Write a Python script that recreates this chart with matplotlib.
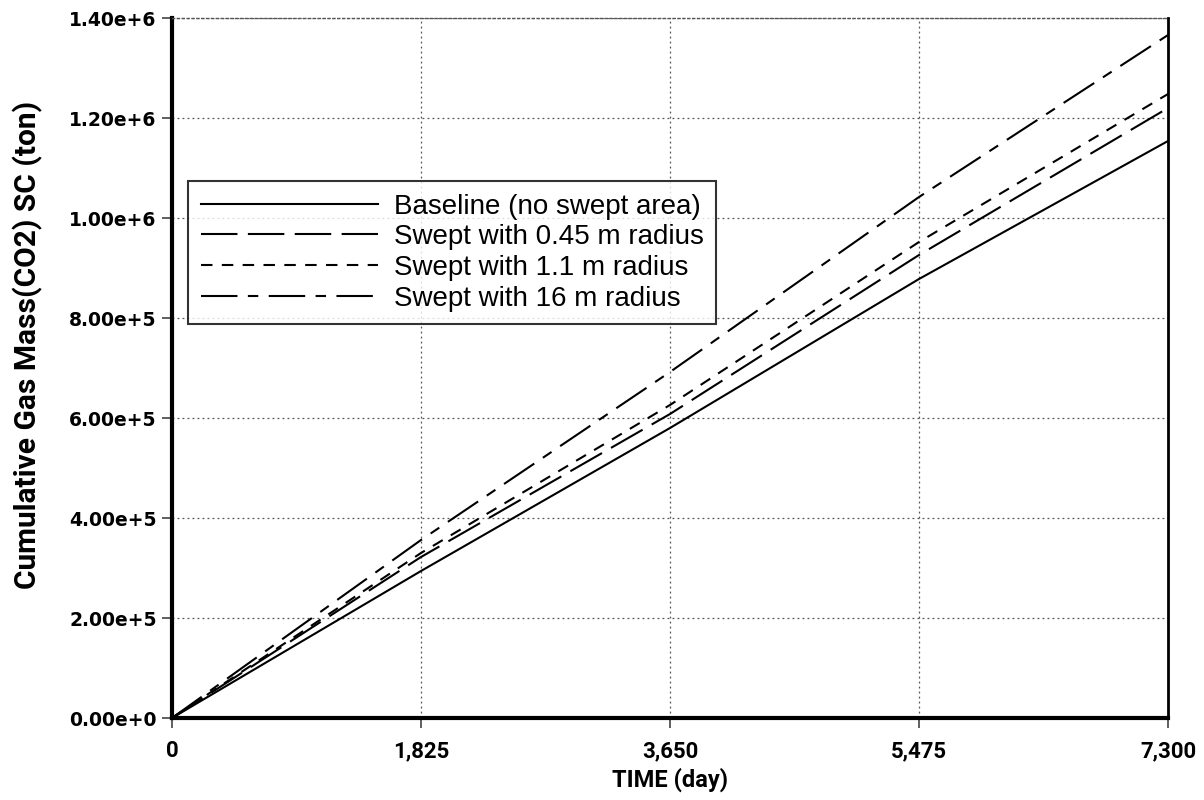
import matplotlib
matplotlib.use("Agg")
import matplotlib.pyplot as plt
from matplotlib.ticker import FixedLocator

time_days = [0, 1825, 3650, 5475, 7300]
baseline = [0, 2.94e5, 5.80e5, 8.78e5, 1.154e6]
swept_045 = [0, 3.22e5, 6.08e5, 9.26e5, 1.220e6]
swept_11 = [0, 3.30e5, 6.26e5, 9.52e5, 1.248e6]
swept_16 = [0, 3.56e5, 6.92e5, 1.042e6, 1.366e6]

labels = ["Baseline (no swept area)", "Swept with 0.45 m radius",
          "Swept with 1.1 m radius", "Swept with 16 m radius"]
xticks = [0, 1825, 3650, 5475, 7300]
xtick_labels = ["0", "1,825", "3,650", "5,475", "7,300"]
yticks = [0, 2e5, 4e5, 6e5, 8e5, 1e6, 1.2e6, 1.4e6]
ytick_labels = ["0.00e+0", "2.00e+5", "4.00e+5", "6.00e+5", "8.00e+5",
                "1.00e+6", "1.20e+6", "1.40e+6"]

fig = plt.figure(figsize=(12.04, 8.0), dpi=100)
ax = fig.add_axes([172/1204, 1 - 718/800, (1168-172)/1204, (718-18)/800])

lw = 1.5
ax.plot(time_days, baseline, color="black", lw=lw, label=labels[0])
ax.plot(time_days, swept_045, color="black", lw=lw, dashes=(17.5, 5), label=labels[1])
ax.plot(time_days, swept_11, color="black", lw=lw, dashes=(5.5, 4.5), label=labels[2])
ax.plot(time_days, swept_16, color="black", lw=lw, dashes=(17.5, 5, 5, 5), label=labels[3])

ax.set_xlim(0, 7300)
ax.set_ylim(0, 1.4e6)
ax.xaxis.set_major_locator(FixedLocator(xticks))
ax.yaxis.set_major_locator(FixedLocator(yticks))
ax.set_xticklabels(xtick_labels)
ax.set_yticklabels(ytick_labels)

for t in ax.get_yticklabels():
    t.set_fontfamily("DejaVu Sans")
    t.set_fontweight("bold")
    t.set_fontsize(13.5)
for t in ax.get_xticklabels():
    t.set_fontfamily("Roboto")
    t.set_fontweight("bold")
    t.set_fontsize(16)

ax.tick_params(axis="both", direction="out", length=7, width=1.2, color="#444444")
ax.tick_params(axis="x", pad=9)
ax.tick_params(axis="y", pad=4)

ax.grid(True, linestyle=(0, (1.5, 2.5)), color="#555555", lw=0.9)

ax.spines["left"].set_linewidth(3)
ax.spines["bottom"].set_linewidth(3)
ax.spines["right"].set_linewidth(2.0)
ax.spines["top"].set_linestyle((0, (1.5, 2.0)))
ax.spines["top"].set_linewidth(1.0)
ax.spines["top"].set_color("#555555")

ax.set_xlabel("TIME (day)", family="Roboto", weight="bold", size=17, labelpad=4)
ax.set_ylabel("Cumulative Gas Mass(CO2) SC (ton)",
              family="Roboto", weight="bold", size=21.5)
ax.yaxis.set_label_coords((43 - 172) / 996, (718 - 345) / 700)

leg = ax.legend(loc="upper left", bbox_to_anchor=(16/996, (718-181)/700),
                prop=dict(family=["Liberation Sans", "DejaVu Sans"], size=20),
                handlelength=6.4, frameon=True, fancybox=False,
                edgecolor="black", borderpad=0.45, labelspacing=0.17,
                handletextpad=0.55, borderaxespad=0)
leg.get_frame().set_linewidth(1.5)

fig.savefig("out.png", dpi=100)
